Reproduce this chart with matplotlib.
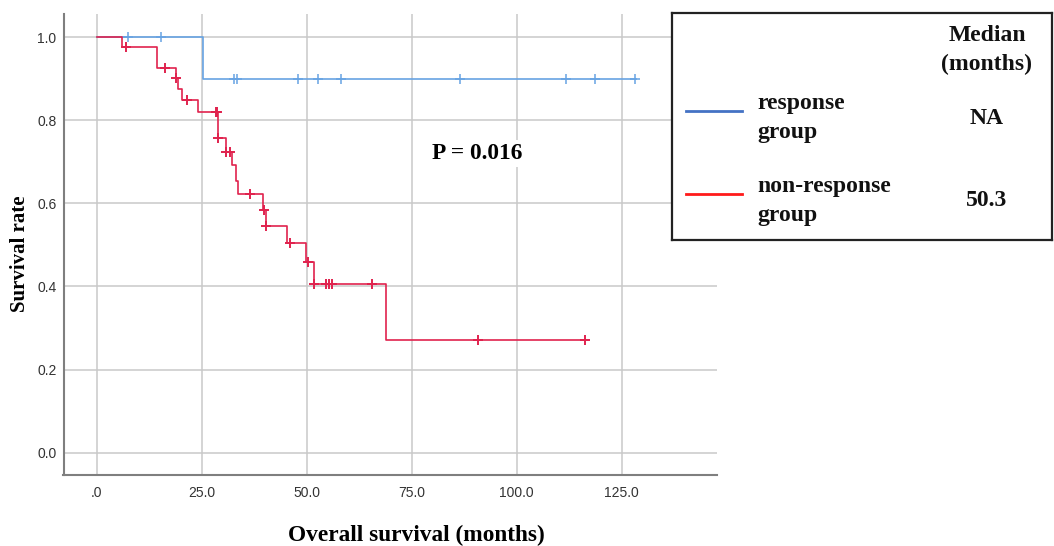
import numpy as np
import matplotlib
matplotlib.use('Agg')
import matplotlib.pyplot as plt

# Kaplan-Meier curves (months, survival)
resp_times = [0, 25.4, 128.4]
resp_surv = [1.0, 0.9, 0.9]
resp_cens = [7.4, 15.3, 32.7, 33.3, 48.0, 52.8, 58.1, 86.6, 111.8, 118.7, 128.1]

nonresp_times = [0, 6.1, 14.3, 18.8, 19.4, 20.2, 24.2, 28.9, 30.9, 32.3, 33.1, 33.7,
                 39.6, 40.2, 45.2, 49.9, 51.7, 68.9, 116.3]
nonresp_surv = [1.0, 0.976, 0.927, 0.901, 0.875, 0.849, 0.821, 0.757, 0.724, 0.692, 0.654,
                0.622, 0.584, 0.546, 0.504, 0.459, 0.407, 0.272, 0.272]
nonresp_cens = [6.9, 16.3, 19.0, 21.4, 28.5, 28.7, 28.9, 30.9, 31.7, 36.6, 39.8, 40.4,
                46.1, 50.2, 51.8, 54.7, 55.2, 56.0, 65.6, 90.7, 116.3]

xticks = [0, 25, 50, 75, 100, 125]
xticklabels = ['.0', '25.0', '50.0', '75.0', '100.0', '125.0']
yticks = [0.0, 0.2, 0.4, 0.6, 0.8, 1.0]
yticklabels = ['0.0', '0.2', '0.4', '0.6', '0.8', '1.0']

groups = ['response\ngroup', 'non-response\ngroup']
medians = ['NA', '50.3']
p_text = 'P = 0.016'

W, H = 1054, 546
fig = plt.figure(figsize=(W / 100, H / 100), dpi=100)
serif = 'Liberation Serif'
sans = 'Liberation Sans'

ax_w, ax_h = 717 - 63.5, 475 - 14
ax = fig.add_axes([63.5 / W, 1 - 475 / H, ax_w / W, ax_h / H])
ax.set_xlim(-7.9, 147.7)
ax.set_ylim(-0.054, 1.056)
ax.set_xticks(xticks)
ax.set_xticklabels(xticklabels)
ax.set_yticks(yticks)
ax.set_yticklabels(yticklabels)
ax.tick_params(length=0, labelsize=10, labelcolor='#333333')
ax.tick_params(axis='x', pad=8)
ax.tick_params(axis='y', pad=5)
for lab in ax.get_xticklabels() + ax.get_yticklabels():
    lab.set_fontfamily(sans)
ax.grid(True, color='#c9c9c9', lw=1.1)
ax.set_axisbelow(True)
for s in ['top', 'right']:
    ax.spines[s].set_visible(False)
for s in ['left', 'bottom']:
    ax.spines[s].set_color('#7f7f7f')
    ax.spines[s].set_linewidth(1.5)


def cens_y(times, surv, cens):
    idx = np.searchsorted(times, cens, side='right') - 1
    return np.array(surv)[idx]


blue = '#67a3e3'
red = '#e0234e'
ax.step(resp_times, resp_surv, where='post', color=blue, lw=1.2)
ax.plot(resp_cens, cens_y(resp_times, resp_surv, resp_cens), '+', color=blue, ms=7, mew=1.1)
ax.step(nonresp_times, nonresp_surv, where='post', color=red, lw=1.2)
ax.plot(nonresp_cens, cens_y(nonresp_times, nonresp_surv, nonresp_cens), '+', color=red, ms=7.5, mew=1.4)

ax.text(90.5, 0.72, p_text, fontfamily=serif, fontweight='bold', fontsize=16.8,
        ha='center', va='center', bbox=dict(facecolor='white', edgecolor='none', pad=2))

ax.set_ylabel('Survival rate', fontfamily=serif, fontweight='bold', fontsize=15)
ax.yaxis.set_label_coords(-33 / ax_w, 1 - (254 - 14) / ax_h)
ax.set_xlabel('Overall survival (months)', fontfamily=serif, fontweight='bold', fontsize=16.8)
ax.xaxis.set_label_coords((416 - 63.5) / ax_w, -(525 - 475) / ax_h)

# legend / median table box, laid out in pixel units
lx0, ly0, lx1, ly1 = 672, 13, 1052, 240
lax = fig.add_axes([lx0 / W, 1 - ly1 / H, (lx1 - lx0) / W, (ly1 - ly0) / H])
lax.set_xlim(lx0, lx1)
lax.set_ylim(ly1, ly0)
lax.set_xticks([])
lax.set_yticks([])
for s in lax.spines.values():
    s.set_color('#222222')
    s.set_linewidth(1.6)

tkw = dict(fontfamily=serif, fontweight='bold', fontsize=17, color='#111111', linespacing=1.45)
lax.text(987, 50, 'Median\n(months)', ha='center', va='center', **tkw)
leg_colors = ['#4472c4', '#ff1a1a']
rows_y = [118, 201]
for g, m, c, y in zip(groups, medians, leg_colors, rows_y):
    lax.plot([686, 742], [y - 7, y - 7], color=c, lw=2)
    lax.text(757, y, g, ha='left', va='center', **tkw)
    lax.text(987, y, m, ha='center', va='center', **tkw)

fig.savefig('out.png', dpi=100)
